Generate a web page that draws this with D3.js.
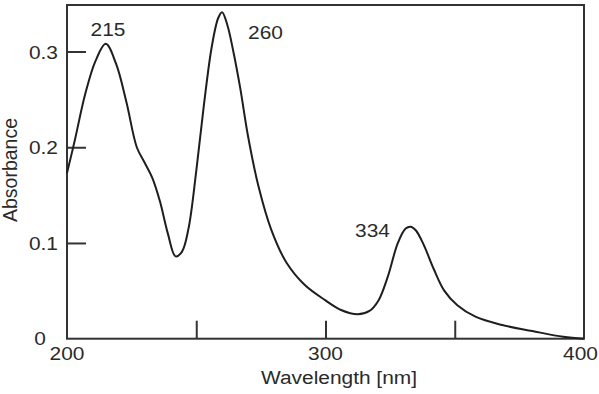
<!DOCTYPE html>
<html>
<head>
<meta charset="utf-8">
<script src="https://cdn.jsdelivr.net/npm/d3@7"></script>
<style>
  html, body { margin: 0; padding: 0; background: #fff; }
  svg { display: block; }
  text { font-family: "Liberation Sans", Arial, sans-serif; fill: #2a2a2a; }
</style>
</head>
<body>
<svg id="chart" width="599" height="394"></svg>
<script>
// ---- data ----
const wavelengths = [200, 203, 207, 211, 215, 219, 223, 227, 230, 233, 236, 239, 242, 244.5, 247, 250, 253, 256, 258.5, 260, 262, 264.5, 267, 270, 274, 279, 285, 292, 300, 306, 312.5, 317, 320.5, 324, 328, 331, 333, 335, 338, 342, 346, 351, 358, 368, 380, 392, 400];
const absorbance  = [0.173, 0.207, 0.255, 0.290, 0.308, 0.287, 0.247, 0.200, 0.184, 0.168, 0.143, 0.110, 0.086, 0.091, 0.115, 0.175, 0.245, 0.305, 0.335, 0.341, 0.328, 0.298, 0.262, 0.212, 0.160, 0.114, 0.079, 0.056, 0.040, 0.030, 0.0255, 0.029, 0.040, 0.064, 0.100, 0.115, 0.117, 0.113, 0.098, 0.072, 0.050, 0.035, 0.023, 0.0145, 0.008, 0.002, 0];
const xTickMarks = [250, 300, 350];
const xTickLabels = [200, 300, 400];
const yTickValues = [0.1, 0.2, 0.3];
const peakLabels = ["215", "260", "334"];
const xTitle = "Wavelength [nm]";
const yTitle = "Absorbance";

// ---- layout ----
const W = 599, H = 394;
const m = { left: 67, top: 5, right: 15, bottom: 55.3 };
const x = d3.scaleLinear().domain([200, 400]).range([m.left, W - m.right]);
const y = d3.scaleLinear().domain([0, 0.3486]).range([H - m.bottom, m.top]);
const svg = d3.select("#chart");
const stretch = 1.1;
const fs = 19;
const ink = "#333";

// frame
svg.append("rect")
  .attr("x", x(200)).attr("y", y(0.3486))
  .attr("width", x(400) - x(200)).attr("height", y(0) - y(0.3486))
  .attr("fill", "none").attr("stroke", ink).attr("stroke-width", 2);

// x tick marks (inward)
const gx = svg.append("g").attr("transform", `translate(0,${y(0)})`)
  .call(d3.axisBottom(x).tickValues(xTickMarks).tickSizeInner(-18).tickSizeOuter(0).tickFormat(""));
gx.select(".domain").remove();
gx.selectAll("line").attr("stroke", ink).attr("stroke-width", 2);

// y tick marks (inward)
const gy = svg.append("g").attr("transform", `translate(${x(200)},0)`)
  .call(d3.axisLeft(y).tickValues(yTickValues).tickSizeInner(-19).tickSizeOuter(0).tickFormat(""));
gy.select(".domain").remove();
gy.selectAll("line").attr("stroke", ink).attr("stroke-width", 2);

function label(txt, px, py, anchor, size) {
  svg.append("text")
    .attr("transform", `translate(${px},${py}) scale(${stretch},1)`)
    .attr("text-anchor", anchor)
    .style("font-size", (size || fs) + "px")
    .text(txt);
}

// y tick labels
yTickValues.forEach(v => label(d3.format(".1f")(v), x(200) - 9, y(v) + 7, "end"));
label("0", x(200) - 21, y(0) + 6, "end");

// x tick labels
xTickLabels.forEach(v => {
  if (v === 400) label(String(v), W - 1, y(0) + 21, "end");
  else label(String(v), x(v), y(0) + 21, "middle");
});

// titles
label(xTitle, (263 + 415) / 2, 384, "middle");
svg.append("text")
  .attr("transform", `translate(17,170) rotate(-90)`)
  .attr("text-anchor", "middle")
  .style("font-size", "19.5px")
  .text(yTitle);

// curve
const pts = wavelengths.map((w, i) => [w, absorbance[i]]);
const line = d3.line().x(d => x(d[0])).y(d => y(d[1])).curve(d3.curveCatmullRom.alpha(0.5));
svg.append("path").datum(pts)
  .attr("d", line)
  .attr("fill", "none").attr("stroke", "#1e1e1e").attr("stroke-width", 2);

// peak labels
const peakPx = [108, 265.5, 372.5];
const peakPy = [36, 39, 237];
peakLabels.forEach((t, i) => label(t, peakPx[i], peakPy[i], "middle"));
</script>
</body>
</html>
